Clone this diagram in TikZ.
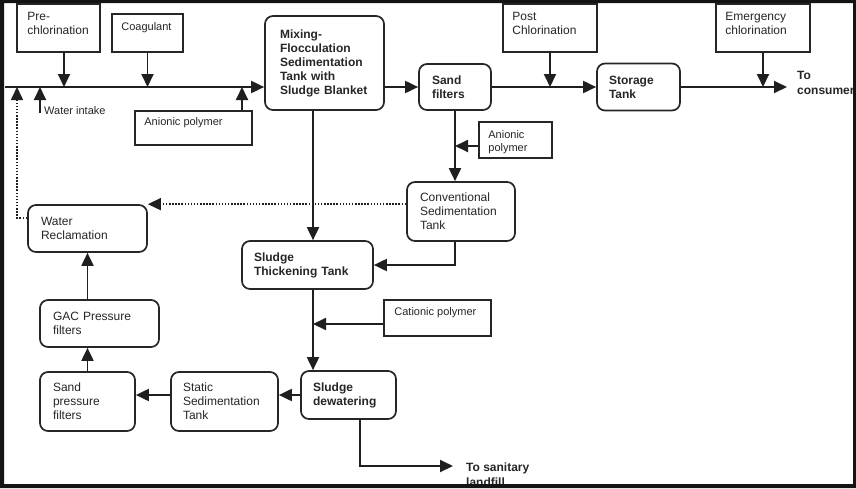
\documentclass[tikz,border=0pt]{standalone}
\usepackage{fontspec}
\setmainfont{Liberation Sans}
\usetikzlibrary{arrows.meta}
\begin{document}
\begin{tikzpicture}[x=1pt,y=-1pt,
  proc/.style={draw=black!85, line width=1.7pt, rounded corners=8pt, inner ysep=0pt,
    align=left, text=black!85, font=\fontsize{12}{14}\selectfont},
  procb/.style={proc, font=\fontsize{12}{14}\selectfont\bfseries},
  addbox/.style={draw=black!85, line width=1.6pt, inner sep=0pt},
  addtxt/.style={inner sep=0pt, align=left, anchor=north west, text=black!85,
    font=\fontsize{12}{14}\selectfont},
  addsm/.style={addtxt, font=\fontsize{11}{13}\selectfont},
  outtxt/.style={inner sep=0pt, align=left, anchor=north west, text=black!85,
    font=\fontsize{12}{15}\selectfont\bfseries},
  flow/.style={draw=black!88, line width=1.9pt, -{Triangle[length=13pt,width=12pt]}},
  ret/.style={flow, line width=1.6pt, dash pattern=on 1.5pt off 1.6pt}]

\useasboundingbox (0,0) rectangle (856,488);
\fill[white] (0,0) rectangle (856,488);

% ---- process units (rounded boxes) ----
\node[procb, minimum width=119pt, minimum height=94pt, text width=89pt, inner xsep=15pt]
  (mix) at (324.5,63) {Mixing-\\Flocculation\\Sedimentation\\Tank with\\Sludge Blanket};
\node[procb, minimum width=72pt, minimum height=46pt, text width=46pt, inner xsep=13pt]
  (sand) at (455,87) {Sand\\filters};
\node[procb, minimum width=83pt, minimum height=47pt, text width=59pt, inner xsep=12pt]
  (stor) at (638.5,87) {Storage\\Tank};
\node[proc, minimum width=108pt, minimum height=59pt, text width=82pt, inner xsep=13pt]
  (conv) at (461,211.5) {Conventional\\Sedimentation\\Tank};
\node[procb, minimum width=131pt, minimum height=48pt, text width=107pt, inner xsep=12pt]
  (thick) at (307.5,265) {Sludge\\Thickening Tank};
\node[procb, minimum width=95pt, minimum height=48pt, text width=71pt, inner xsep=12pt]
  (dew) at (348.5,395) {Sludge\\dewatering};
\node[proc, minimum width=107pt, minimum height=59pt, text width=83pt, inner xsep=12pt]
  (stat) at (224.5,401.5) {Static\\Sedimentation\\Tank};
\node[proc, minimum width=95pt, minimum height=59pt, text width=69pt, inner xsep=13pt]
  (spf) at (87.5,401.5) {Sand\\pressure\\filters};
\node[proc, minimum width=119pt, minimum height=47pt, text width=93pt, inner xsep=13pt]
  (gac) at (99.5,323.5) {GAC Pressure\\filters};
\node[proc, minimum width=119pt, minimum height=47pt, text width=93pt, inner xsep=13pt]
  (wrec) at (87.5,228.5) {Water\\Reclamation};

% ---- chemical dosing boxes ----
\node[addbox, minimum width=83pt, minimum height=48pt] (prec) at (58.5,28) {};
\node[addtxt] (precT) at ([xshift=11pt,yshift=-9pt]prec.north west) {Pre-\\chlorination};
\node[addbox, minimum width=71pt, minimum height=38pt] (coag) at (147.5,33) {};
\node[addsm] (coagT) at ([xshift=10pt,yshift=-9pt]coag.north west) {Coagulant};
\node[addbox, minimum width=117pt, minimum height=34pt] (anion1) at (193.5,128) {};
\node[addsm] (anion1T) at ([xshift=10pt,yshift=-7pt]anion1.north west) {Anionic polymer};
\node[addbox, minimum width=94pt, minimum height=48pt] (post) at (550,28) {};
\node[addtxt] (postT) at ([xshift=10pt,yshift=-9pt]post.north west) {Post\\Chlorination};
\node[addbox, minimum width=94pt, minimum height=48pt] (emer) at (763,28) {};
\node[addtxt] (emerT) at ([xshift=10pt,yshift=-9pt]emer.north west) {Emergency\\chlorination};
\node[addbox, minimum width=73pt, minimum height=36pt] (anion2) at (515.5,140) {};
\node[addsm] (anion2T) at ([xshift=10pt,yshift=-9pt]anion2.north west) {Anionic\\polymer};
\node[addbox, minimum width=107pt, minimum height=36pt] (cat) at (437.5,318) {};
\node[addsm] (catT) at ([xshift=11pt,yshift=-8pt]cat.north west) {Cationic polymer};

% ---- free labels ----
\node[addsm] (wiT) at (44,106) {Water intake};
\node[outtxt] (consT) at (797,71) {To\\consumer};
\node[outtxt] (lfT) at (466,463) {To sanitary\\landfill};

% ---- helper points ----
\coordinate (inlet) at (5,87);
\coordinate (retin) at (17,87);
\coordinate (wi) at (40,113);
\coordinate (outc) at (787,87);
\coordinate (lf) at (453,466);
\coordinate (preA) at ([xshift=5.5pt]prec.south);
\coordinate (an1A) at ([xshift=48.5pt]anion1.north);
\coordinate (an2A) at ([yshift=-6pt]anion2.west);
\coordinate (mixB) at ([xshift=-11.5pt]mix.south);
\coordinate (thkB) at ([xshift=5.5pt]thick.south);
\coordinate (catA) at ([yshift=-6pt]cat.west);
\coordinate (dewB) at ([xshift=11.5pt]dew.south);
\coordinate (wrecL) at ([yshift=10.5pt]wrec.west);

% ---- main water line ----
\draw[flow] (inlet) -- (inlet -| mix.west);
\draw[flow] (mix.east |- sand.west) -- (sand.west);
\draw[flow] (sand.east) -- (stor.west);
\draw[flow] (stor.east) -- (outc);
\draw[flow] (wi) -- (wi |- inlet);
\draw[flow] (preA) -- (preA |- inlet);
\draw[flow] (coag.south) -- (coag.south |- inlet);
\draw[flow] (an1A) -- (an1A |- inlet);
\draw[flow] (post.south) -- (post.south |- sand.east);
\draw[flow] (emer.south) -- (emer.south |- outc);

% ---- sludge and wash water line ----
\draw[flow] (sand.south) -- (sand.south |- conv.north);
\draw[flow] (an2A) -- (an2A -| sand.south);
\draw[flow] (conv.south -| sand.south) |- (thick.east);
\draw[flow] (mixB) -- (mixB |- thick.north);
\draw[flow] (thkB) -- (thkB |- dew.north);
\draw[flow] (catA) -- (catA -| thkB);
\draw[flow] (dew.west) -- (dew.west -| stat.east);
\draw[flow] (stat.west |- dew.west) -- (spf.east |- dew.west);
\draw[flow] (spf.north) -- (spf.north |- gac.south);
\draw[flow] (wrec.south |- gac.north) -- (wrec.south);
\draw[flow] (dewB) |- (lf);

% ---- recycled water (dotted) ----
\draw[ret] (conv.west |- wrec.north east) -- (wrec.north east);
\draw[ret] (wrecL) -| (retin);

% ---- frame ----
\fill[black!92, even odd rule] (0,0) rectangle (856,488) (4,3) rectangle (853,484);
\end{tikzpicture}
\end{document}
